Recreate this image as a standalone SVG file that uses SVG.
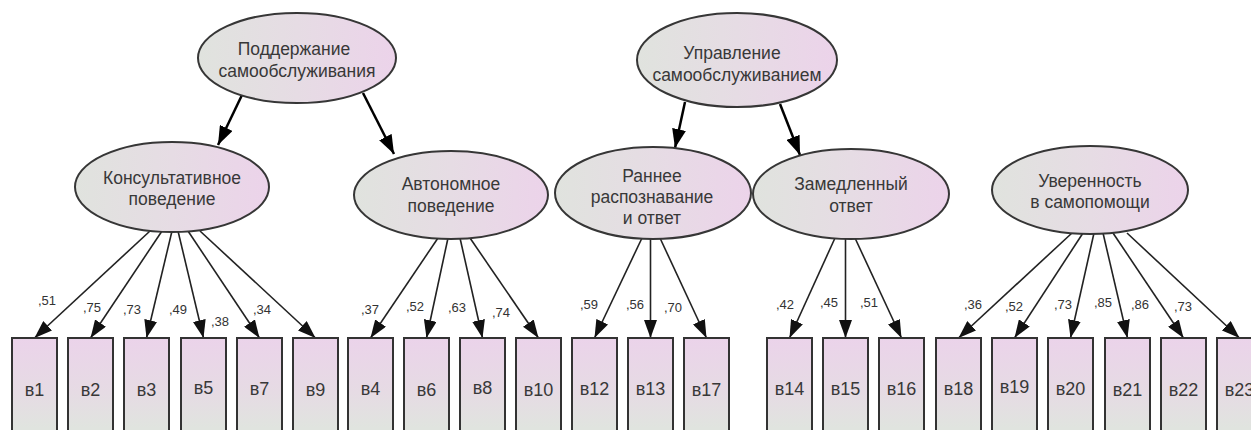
<svg xmlns="http://www.w3.org/2000/svg" width="1251" height="430" viewBox="0 0 1251 430">
<defs>
<linearGradient id="gE" x1="0" y1="0" x2="1" y2="0">
<stop offset="0" stop-color="#e0e3de"/>
<stop offset="0.5" stop-color="#e6dce4"/>
<stop offset="1" stop-color="#ecd3ea"/>
</linearGradient>
<linearGradient id="gB" x1="0" y1="0" x2="0" y2="1">
<stop offset="0" stop-color="#ebd3ea"/>
<stop offset="0.45" stop-color="#e6dbe4"/>
<stop offset="0.75" stop-color="#e0e4df"/>
</linearGradient>
<marker id="aS" markerUnits="userSpaceOnUse" markerWidth="18" markerHeight="13" refX="18" refY="6.5" orient="auto">
<path d="M0,0 L18,6.5 L0,13 z" fill="#111"/>
</marker>
<marker id="aL" markerUnits="userSpaceOnUse" markerWidth="19" markerHeight="14" refX="19" refY="7" orient="auto">
<path d="M0,0 L19,7 L0,14 z" fill="#000"/>
</marker>
<style>
.ell{fill:url(#gE);stroke:#363636;stroke-width:2}
.box{fill:url(#gB);stroke:#333;stroke-width:2}
.lt{font-family:"Liberation Sans",Arial,sans-serif;font-size:17.5px;fill:#383838;text-anchor:middle}
.bt{font-family:"Liberation Sans",Arial,sans-serif;font-size:18px;fill:#383838;text-anchor:middle}
.ct{font-family:"Liberation Sans",Arial,sans-serif;font-size:13px;fill:#333;text-anchor:middle}
.cs{stroke:#222;stroke-width:1.6;fill:none;marker-end:url(#aS)}
.cl{stroke:#000;stroke-width:2.5;fill:none;marker-end:url(#aL)}
</style>
</defs>
<rect width="1251" height="430" fill="#fff"/>

<g id="connectors">
<line class="cl" x1="242" y1="95" x2="218" y2="145"/>
<line class="cl" x1="363" y1="93" x2="394" y2="154"/>
<line class="cl" x1="685" y1="102" x2="675" y2="148"/>
<line class="cl" x1="780" y1="104" x2="800" y2="155"/>

<line class="cs" x1="150" y1="231" x2="34.5" y2="338"/>
<line class="cs" x1="162" y1="231" x2="90.5" y2="338"/>
<line class="cs" x1="172" y1="231" x2="146.5" y2="338"/>
<line class="cs" x1="178" y1="231" x2="203.5" y2="338"/>
<line class="cs" x1="188" y1="231" x2="259.5" y2="338"/>
<line class="cs" x1="200" y1="231" x2="315.5" y2="338"/>

<line class="cs" x1="438" y1="238" x2="370.5" y2="338"/>
<line class="cs" x1="448" y1="238" x2="426.5" y2="338"/>
<line class="cs" x1="460" y1="238" x2="482.5" y2="338"/>
<line class="cs" x1="470" y1="238" x2="538.5" y2="338"/>

<line class="cs" x1="642" y1="238" x2="594.5" y2="338"/>
<line class="cs" x1="650.5" y1="238" x2="650.5" y2="338"/>
<line class="cs" x1="660" y1="238" x2="706.5" y2="338"/>

<line class="cs" x1="835" y1="238" x2="789.5" y2="338"/>
<line class="cs" x1="845.5" y1="238" x2="845.5" y2="338"/>
<line class="cs" x1="855" y1="238" x2="901.5" y2="338"/>

<line class="cs" x1="1072" y1="233" x2="958.5" y2="338"/>
<line class="cs" x1="1083" y1="233" x2="1014.5" y2="338"/>
<line class="cs" x1="1094" y1="233" x2="1070.5" y2="338"/>
<line class="cs" x1="1103" y1="233" x2="1127.5" y2="338"/>
<line class="cs" x1="1113" y1="233" x2="1183.5" y2="338"/>
<line class="cs" x1="1127" y1="233" x2="1239.5" y2="338"/>

<text class="ct" x="47" y="305">,51</text>
<text class="ct" x="92" y="312">,75</text>
<text class="ct" x="132" y="314">,73</text>
<text class="ct" x="178" y="314">,49</text>
<text class="ct" x="220" y="326">,38</text>
<text class="ct" x="262" y="314">,34</text>
<text class="ct" x="370" y="314">,37</text>
<text class="ct" x="415" y="311">,52</text>
<text class="ct" x="457" y="312">,63</text>
<text class="ct" x="501" y="317">,74</text>
<text class="ct" x="589" y="309">,59</text>
<text class="ct" x="635" y="309">,56</text>
<text class="ct" x="673" y="312">,70</text>
<text class="ct" x="785" y="309">,42</text>
<text class="ct" x="829" y="307">,45</text>
<text class="ct" x="869" y="307">,51</text>
<text class="ct" x="973" y="309">,36</text>
<text class="ct" x="1014" y="311">,52</text>
<text class="ct" x="1063" y="309">,73</text>
<text class="ct" x="1103" y="307">,85</text>
<text class="ct" x="1140" y="309">,86</text>
<text class="ct" x="1183" y="311">,73</text>
</g>

<g id="n-podderzhanie">
<ellipse class="ell" cx="297" cy="58" rx="99" ry="45"/>
<text class="lt" x="294" y="55">Поддержание</text>
<text class="lt" x="297" y="77">самообслуживания</text>
</g>
<g id="n-upravlenie">
<ellipse class="ell" cx="737" cy="60" rx="100" ry="47"/>
<text class="lt" x="732" y="59">Управление</text>
<text class="lt" x="737" y="81">самообслуживанием</text>
</g>
<g id="n-konsult">
<ellipse class="ell" cx="172" cy="187" rx="97" ry="45"/>
<text class="lt" x="172" y="184">Консультативное</text>
<text class="lt" x="172" y="205">поведение</text>
</g>
<g id="n-avtonom">
<ellipse class="ell" cx="451" cy="195" rx="97" ry="44"/>
<text class="lt" x="451" y="190">Автономное</text>
<text class="lt" x="451" y="212">поведение</text>
</g>
<g id="n-rannee">
<ellipse class="ell" cx="653" cy="193" rx="98" ry="46"/>
<text class="lt" x="652" y="182">Раннее</text>
<text class="lt" x="652" y="203">распознавание</text>
<text class="lt" x="652" y="224">и ответ</text>
</g>
<g id="n-zamedl">
<ellipse class="ell" cx="851" cy="194" rx="98" ry="45"/>
<text class="lt" x="851" y="190">Замедленный</text>
<text class="lt" x="851" y="212">ответ</text>
</g>
<g id="n-uverennost">
<ellipse class="ell" cx="1090" cy="190" rx="98" ry="44"/>
<text class="lt" x="1090" y="187">Уверенность</text>
<text class="lt" x="1090" y="208">в самопомощи</text>
</g>

<g id="n-v1"><rect class="box" x="12" y="338" width="45" height="120"/><text class="bt" x="34.5" y="396">в1</text></g>
<g id="n-v2"><rect class="box" x="68" y="338" width="45" height="120"/><text class="bt" x="90.5" y="396">в2</text></g>
<g id="n-v3"><rect class="box" x="124" y="338" width="45" height="120"/><text class="bt" x="146.5" y="396">в3</text></g>
<g id="n-v5"><rect class="box" x="181" y="338" width="45" height="120"/><text class="bt" x="203.5" y="394">в5</text></g>
<g id="n-v7"><rect class="box" x="237" y="338" width="45" height="120"/><text class="bt" x="259.5" y="395">в7</text></g>
<g id="n-v9"><rect class="box" x="293" y="338" width="45" height="120"/><text class="bt" x="315.5" y="396">в9</text></g>
<g id="n-v4"><rect class="box" x="348" y="338" width="45" height="120"/><text class="bt" x="370.5" y="395">в4</text></g>
<g id="n-v6"><rect class="box" x="404" y="338" width="45" height="120"/><text class="bt" x="426.5" y="396">в6</text></g>
<g id="n-v8"><rect class="box" x="460" y="338" width="45" height="120"/><text class="bt" x="482.5" y="394">в8</text></g>
<g id="n-v10"><rect class="box" x="516" y="338" width="45" height="120"/><text class="bt" x="538.5" y="396">в10</text></g>
<g id="n-v12"><rect class="box" x="572" y="338" width="45" height="120"/><text class="bt" x="594.5" y="395">в12</text></g>
<g id="n-v13"><rect class="box" x="628" y="338" width="45" height="120"/><text class="bt" x="650.5" y="395">в13</text></g>
<g id="n-v17"><rect class="box" x="684" y="338" width="45" height="120"/><text class="bt" x="706.5" y="396">в17</text></g>
<g id="n-v14"><rect class="box" x="767" y="338" width="45" height="120"/><text class="bt" x="789.5" y="395">в14</text></g>
<g id="n-v15"><rect class="box" x="823" y="338" width="45" height="120"/><text class="bt" x="845.5" y="395">в15</text></g>
<g id="n-v16"><rect class="box" x="879" y="338" width="45" height="120"/><text class="bt" x="901.5" y="395">в16</text></g>
<g id="n-v18"><rect class="box" x="936" y="338" width="45" height="120"/><text class="bt" x="958.5" y="395">в18</text></g>
<g id="n-v19"><rect class="box" x="992" y="338" width="45" height="120"/><text class="bt" x="1014.5" y="393">в19</text></g>
<g id="n-v20"><rect class="box" x="1048" y="338" width="45" height="120"/><text class="bt" x="1070.5" y="395">в20</text></g>
<g id="n-v21"><rect class="box" x="1105" y="338" width="45" height="120"/><text class="bt" x="1127.5" y="396">в21</text></g>
<g id="n-v22"><rect class="box" x="1161" y="338" width="45" height="120"/><text class="bt" x="1183.5" y="396">в22</text></g>
<g id="n-v23"><rect class="box" x="1217" y="338" width="45" height="120"/><text class="bt" x="1239.5" y="396">в23</text></g>
</svg>
